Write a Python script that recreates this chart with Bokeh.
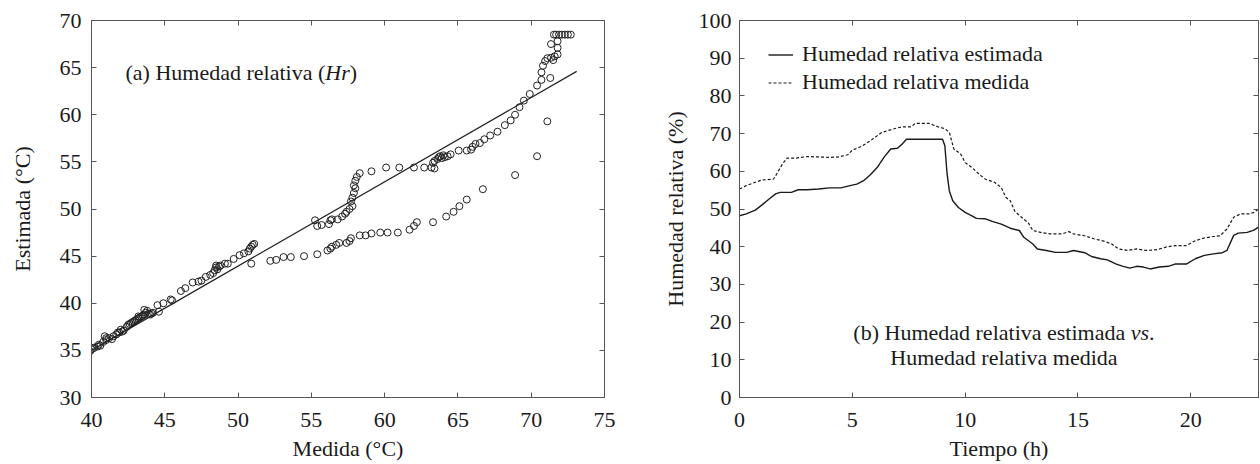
from bokeh.plotting import figure
from bokeh.layouts import row
from bokeh.models import Range1d, FixedTicker, LinearAxis, Label, Legend, LegendItem
from bokeh.embed import file_html
from bokeh.resources import INLINE

FONT = "Liberation Serif"
TXT = "#1a1a1a"
AX = "#555555"

# ---------------- data: panel (a) ----------------
scatter_medida = [
    39.9, 40.0, 40.1, 40.2, 40.4, 40.5, 40.6, 40.8, 40.9, 41.0, 41.0, 41.2, 41.4, 41.5, 41.7,
    41.8, 41.9, 42.0, 42.1, 42.2, 42.4, 42.5, 42.6, 42.7, 42.8, 42.9, 43.0, 43.1, 43.2, 43.2,
    43.3, 43.4, 43.5, 43.6, 43.6, 43.7, 43.8, 43.9, 44.0, 44.1, 44.2, 44.6, 44.5, 44.9, 45.4,
    45.5,
    46.1, 46.4, 46.9, 47.3, 47.5, 47.8, 48.1, 48.3, 48.4, 48.5, 48.5, 48.6, 48.7, 48.8, 49.1,
    49.3, 49.7, 50.1, 50.4, 50.7, 50.8, 50.9, 51.0, 51.1,
    50.9, 52.2, 52.6, 53.1, 53.6, 54.5, 55.4, 56.1, 56.3, 56.4, 56.7, 56.9, 57.4, 57.6, 57.7,
    58.3, 58.7, 59.1, 59.7, 60.2, 60.9, 61.7, 62.0, 62.2, 63.3, 64.2, 64.7, 65.1, 65.6, 66.7,
    68.9, 70.4, 71.1, 71.3,
    55.25, 55.4, 55.7, 56.2, 56.3, 56.4, 56.8, 57.1, 57.3, 57.4, 57.6, 57.8, 57.7, 57.8, 57.9,
    58.0, 57.9, 58.0, 58.1, 58.3, 59.1, 60.1, 61.0, 62.0, 62.7, 63.2, 63.4, 63.3, 63.4, 63.6,
    63.7, 63.8, 64.0, 63.9, 64.1, 64.3, 64.5, 65.05, 65.6, 65.9, 66.0, 66.2, 66.5, 66.8, 67.2,
    67.7, 68.2, 68.6, 68.9, 69.2, 69.5, 69.9, 70.4, 70.7, 70.7, 70.8, 70.95, 71.1, 71.35, 71.5,
    71.6, 71.8, 71.35, 71.8, 71.8, 71.55, 71.7, 71.9, 72.1, 72.3, 72.5, 72.7,
]
scatter_estimada = [
    34.9, 35.1, 35.2, 35.3, 35.4, 35.6, 35.5, 35.9, 36.5, 36.3, 36.1, 36.3, 36.2, 36.5, 36.7,
    36.9, 36.9, 37.2, 37.0, 37.1, 37.5, 37.7, 37.8, 37.9, 38.0, 38.1, 38.2, 38.3, 38.4, 38.6,
    38.5, 38.6, 38.7, 38.8, 39.3, 39.0, 39.2, 38.9, 38.8, 38.9, 39.0, 39.1, 39.8, 40.0, 40.4,
    40.3,
    41.3, 41.6, 42.2, 42.3, 42.4, 42.8, 43.0, 43.2, 43.5, 43.8, 44.0, 43.6, 43.9, 44.0, 44.2,
    44.2, 44.7, 45.1, 45.3, 45.5, 45.8, 46.0, 46.2, 46.3,
    44.2, 44.5, 44.6, 44.9, 44.9, 45.0, 45.2, 45.6, 45.8, 46.0, 46.2, 46.4, 46.4, 46.6, 46.9,
    47.2, 47.2, 47.4, 47.5, 47.5, 47.5, 47.8, 48.2, 48.6, 48.6, 49.2, 49.7, 50.3, 51.0, 52.1,
    53.6, 55.6, 59.3, 63.9,
    48.8, 48.2, 48.3, 48.4, 48.8, 48.9, 48.9, 49.2, 49.5, 49.7, 50.0, 50.3, 50.8, 51.2, 51.7,
    52.2, 52.5, 53.0, 53.4, 53.8, 54.0, 54.4, 54.4, 54.4, 54.4, 54.4, 54.3, 54.9, 55.1, 55.3,
    55.5, 55.6, 55.7, 55.4, 55.5, 55.6, 55.8, 56.2, 56.2, 56.3, 56.6, 56.9, 57.0, 57.4, 57.8,
    58.2, 58.9, 59.4, 60.0, 60.8, 61.5, 62.2, 63.1, 63.7, 64.5, 65.2, 65.7, 66.0, 66.05, 65.8,
    66.2, 66.4, 67.5, 67.1, 67.8, 68.5, 68.5, 68.5, 68.5, 68.5, 68.5, 68.5,
]
fit_x = [40.0, 73.1]
fit_y = [35.0, 64.6]

xticks_a = [40, 45, 50, 55, 60, 65, 70, 75]
yticks_a = [30, 35, 40, 45, 50, 55, 60, 65, 70]

# ---------------- data: panel (b) ----------------
t_est = [0.0, 0.3, 0.7, 1.0, 1.3, 1.6, 1.8, 2.3, 2.6, 3.0, 3.5, 4.0, 4.5, 4.9, 5.2, 5.5,
         5.8, 6.1, 6.4, 6.7, 7.0, 7.2, 7.4, 9.0, 9.1, 9.2, 9.3, 9.45, 9.7, 10.0, 10.3, 10.5,
         10.9, 11.2, 11.6, 12.0, 12.4, 12.6, 13.0, 13.2, 13.6, 14.0, 14.5, 14.8, 15.3, 15.6,
         16.0, 16.3, 16.7, 17.0, 17.3, 17.6, 17.9, 18.2, 18.6, 19.0, 19.3, 19.8, 20.2, 20.6,
         21.0, 21.4, 21.6, 21.9, 22.1, 22.5, 22.8, 23.0]
hr_est = [48.2, 48.7, 49.7, 51.1, 52.6, 54.0, 54.4, 54.4, 55.1, 55.1, 55.3, 55.6, 55.6, 56.2,
          56.6, 57.5, 59.1, 61.0, 63.7, 65.9, 66.1, 67.2, 68.5, 68.5, 66.8, 59.3, 54.8, 52.2,
          50.4, 49.1, 48.2, 47.5, 47.4, 46.7, 46.0, 44.9, 44.3, 42.5, 40.7, 39.4, 39.0, 38.5,
          38.5, 39.0, 38.4, 37.4, 36.8, 36.5, 35.4, 34.8, 34.3, 34.8, 34.6, 34.1, 34.6, 34.8,
          35.4, 35.4, 36.8, 37.7, 38.1, 38.4, 39.0, 43.0, 43.6, 43.8, 44.4, 45.2]
t_med = [0.0, 0.3, 0.7, 1.0, 1.5, 1.6, 1.9, 2.1, 2.5, 3.0, 3.5, 4.0, 4.4, 4.8, 5.0, 5.4,
         5.8, 6.3, 6.8, 7.2, 7.6, 7.8, 8.4, 8.8, 9.1, 9.3, 9.5, 9.8, 10.0, 10.3, 10.6, 10.9,
         11.3, 11.6, 11.8, 12.0, 12.2, 12.5, 12.8, 13.0, 13.4, 13.8, 14.3, 14.6, 14.8, 15.3,
         15.7, 16.2, 16.5, 16.8, 17.2, 17.6, 18.0, 18.5, 18.9, 19.3, 19.8, 20.2, 20.6, 21.0,
         21.3, 21.6, 21.9, 22.2, 22.6, 22.8, 23.0]
hr_med = [55.3, 56.2, 57.1, 57.7, 57.9, 58.8, 61.9, 63.5, 63.5, 63.9, 63.8, 63.7, 63.8, 64.4,
          65.6, 66.6, 68.1, 70.3, 71.2, 71.8, 71.8, 72.7, 72.7, 71.8, 71.3, 70.3, 65.9, 64.6,
          62.3, 61.0, 59.3, 57.9, 57.1, 55.7, 53.1, 52.2, 49.4, 47.8, 46.3, 44.3, 43.7, 43.4,
          43.4, 44.0, 43.4, 42.9, 42.1, 41.4, 40.7, 39.4, 39.0, 39.4, 39.0, 39.2, 39.9, 40.3,
          40.3, 41.6, 42.3, 42.7, 42.9, 44.7, 47.8, 48.7, 48.7, 49.1, 50.0]

xticks_b = [0, 5, 10, 15, 20]
yticks_b = [0, 10, 20, 30, 40, 50, 60, 70, 80, 90, 100]

# Times-metric advance widths (em) for placing mixed roman/italic labels
W_ROMAN = {"(": .333, ")": .333, " ": .25, ".": .25, "a": .444, "b": .5, "d": .5, "e": .444,
           "H": .722, "i": .278, "l": .278, "m": .778, "r": .333, "s": .389, "t": .278,
           "u": .5, "v": .5}
W_ITAL = {"H": .722, "r": .389, "v": .444, "s": .389}
FS = 22


def tw(s, table):
    return sum(table[c] for c in s) * FS


def style(p, xt, yt, ylab_standoff, ylab_label_standoff):
    p.outline_line_color = AX
    p.outline_line_width = 1
    p.xgrid.visible = False
    p.ygrid.visible = False
    p.background_fill_color = "white"
    p.border_fill_color = "white"
    for ax in p.xaxis + p.yaxis:
        ax.axis_line_color = AX
        ax.major_tick_line_color = AX
        ax.major_tick_in = 5
        ax.major_tick_out = 0
        ax.minor_tick_line_color = None
        ax.major_label_text_font = FONT
        ax.major_label_text_font_size = "22px"
        ax.major_label_text_color = TXT
        ax.axis_label_text_font = FONT
        ax.axis_label_text_font_size = "22px"
        ax.axis_label_text_font_style = "normal"
        ax.axis_label_text_color = TXT
    p.xaxis.ticker = FixedTicker(ticks=xt)
    p.yaxis.ticker = FixedTicker(ticks=yt)
    p.xaxis.major_label_standoff = 15
    p.xaxis.axis_label_standoff = 6
    p.yaxis.major_label_standoff = ylab_standoff
    p.yaxis.axis_label_standoff = ylab_label_standoff
    # tick marks on the top and right edges of the box (no labels)
    for side, t in (("above", xt), ("right", yt)):
        a = LinearAxis(ticker=FixedTicker(ticks=t), major_label_text_font_size="1px",
                       major_label_text_color=None, major_label_standoff=0,
                       axis_line_color=AX, major_tick_line_color=AX,
                       major_tick_in=5, major_tick_out=0, minor_tick_line_color=None)
        p.add_layout(a, side)


# ---------------- panel (a) ----------------
p1 = figure(width=624, height=464, output_backend="svg", toolbar_location=None,
            x_range=Range1d(40, 75), y_range=Range1d(30, 70),
            min_border_left=91, min_border_right=20, min_border_top=20, min_border_bottom=67,
            x_axis_label="Medida (°C)", y_axis_label="Estimada (°C)")
p1.line(fit_x, fit_y, line_color="#222222", line_width=1.2)
p1.scatter(scatter_medida, scatter_estimada, marker="circle", size=7, fill_color=None,
           line_color="#222222", line_width=1)
style(p1, xticks_a, yticks_a, 10, 22)

ax0, ay0 = 42.32, 64.5
s1, s2, s3 = "(a) Humedad relativa (", "Hr", ")"
o2 = tw(s1, W_ROMAN)
o3 = o2 + tw(s2, W_ITAL)
for txt, off, st in ((s1, 0, "normal"), (s2, o2, "italic"), (s3, o3, "normal")):
    p1.add_layout(Label(x=ax0, y=ay0, x_offset=off, text=txt, text_font=FONT,
                        text_font_size="22px", text_font_style=st, text_color=TXT,
                        text_baseline="middle", text_align="left"))

# ---------------- panel (b) ----------------
p2 = figure(width=636, height=464, output_backend="svg", toolbar_location=None,
            x_range=Range1d(0, 23), y_range=Range1d(0, 100),
            min_border_left=115, min_border_right=2, min_border_top=20, min_border_bottom=67,
            x_axis_label="Tiempo (h)", y_axis_label="Humedad relativa (%)")
r_est = p2.line(t_est, hr_est, line_color="#1a1a1a", line_width=1.4)
r_med = p2.line(t_med, hr_med, line_color="#1a1a1a", line_width=1.2, line_dash="3 2")
style(p2, xticks_b, yticks_b, 8, 8)

legend = Legend(items=[LegendItem(label="Humedad relativa estimada", renderers=[r_est]),
                       LegendItem(label="Humedad relativa medida", renderers=[r_med])],
                location=(29, 302), border_line_color=None, background_fill_alpha=0,
                label_text_font=FONT, label_text_font_size="22px", label_text_color=TXT,
                glyph_width=25, glyph_height=25, label_height=25, spacing=2, padding=0,
                margin=0, label_standoff=9)
p2.add_layout(legend)

bx, by1, by2 = 11.72, 17.2, 10.6
b1, b2, b3 = "(b) Humedad relativa estimada ", "vs", "."
w1 = tw(b1, W_ROMAN)
w2 = tw(b2, W_ITAL)
w3 = tw(b3, W_ROMAN)
start = -(w1 + w2 + w3) / 2
for txt, off, st in ((b1, start, "normal"), (b2, start + w1, "italic"),
                     (b3, start + w1 + w2, "normal")):
    p2.add_layout(Label(x=bx, y=by1, x_offset=off, text=txt, text_font=FONT,
                        text_font_size="22px", text_font_style=st, text_color=TXT,
                        text_baseline="middle", text_align="left"))
p2.add_layout(Label(x=bx, y=by2, text="Humedad relativa medida", text_font=FONT,
                    text_font_size="22px", text_color=TXT, text_baseline="middle",
                    text_align="center"))

layout = row(p1, p2)
open("out.html", "w").write(file_html(layout, INLINE))
